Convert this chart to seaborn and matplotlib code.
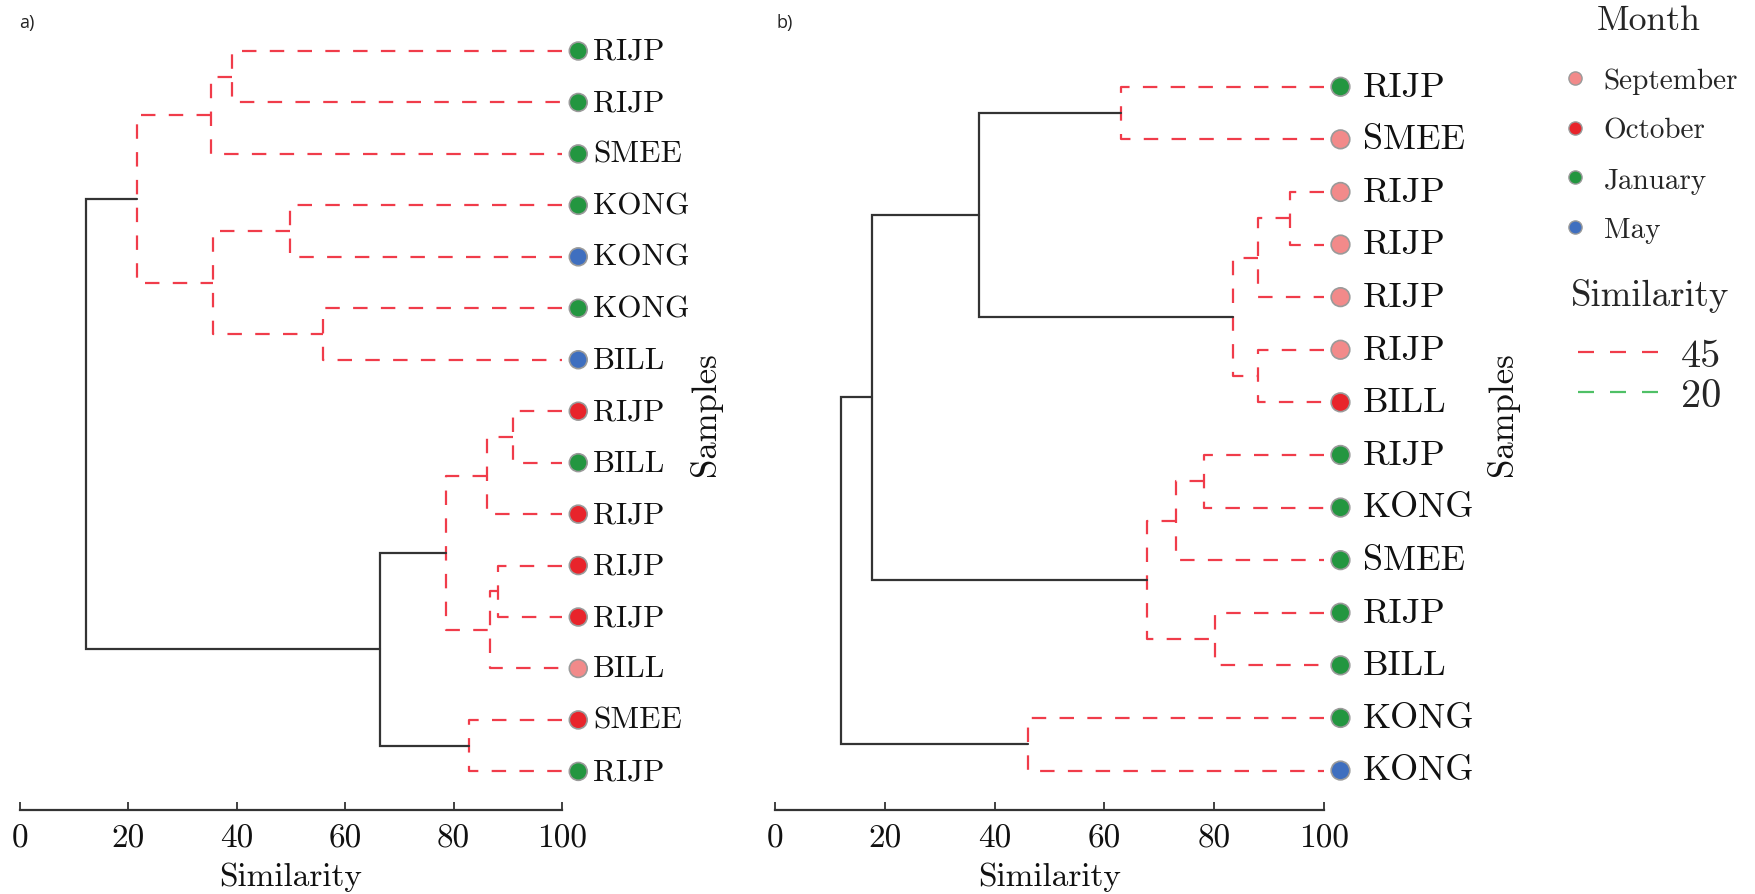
import numpy as np
import pandas as pd
import matplotlib
matplotlib.use("Agg")
import matplotlib.pyplot as plt
from matplotlib.lines import Line2D
import seaborn as sns

# ---------------- data ----------------
months_order = ["September", "October", "January", "May"]

# panel a) leaves (top to bottom)
labels_a = ["RIJP", "RIJP", "SMEE", "KONG", "KONG", "KONG", "BILL", "RIJP",
            "BILL", "RIJP", "RIJP", "RIJP", "BILL", "SMEE", "RIJP"]
months_a = ["January", "January", "January", "January", "May", "January", "May",
            "October", "January", "October", "October", "October", "September",
            "October", "January"]
# merges: (child 1, child 2, similarity); new clusters numbered from len(labels)
merges_a = [(0, 1, 39.2), (15, 2, 35.2), (3, 4, 49.9), (5, 6, 55.9),
            (17, 18, 35.7), (16, 19, 21.6), (7, 8, 90.9), (21, 9, 86.2),
            (10, 11, 88.2), (23, 12, 86.8), (22, 24, 78.6), (13, 14, 82.9),
            (25, 26, 66.4), (20, 27, 12.1)]
solid_a = [27, 28]

# panel b) leaves (top to bottom)
labels_b = ["RIJP", "SMEE", "RIJP", "RIJP", "RIJP", "RIJP", "BILL", "RIJP",
            "KONG", "SMEE", "RIJP", "BILL", "KONG", "KONG"]
months_b = ["January", "September", "September", "September", "September",
            "September", "October", "January", "January", "January", "January",
            "January", "January", "May"]
merges_b = [(0, 1, 63.0), (2, 3, 93.8), (15, 4, 88.0), (5, 6, 88.0),
            (16, 17, 83.5), (14, 18, 37.1), (7, 8, 78.1), (20, 9, 73.0),
            (10, 11, 80.2), (21, 22, 67.8), (19, 23, 17.6), (12, 13, 46.0),
            (24, 25, 12.1)]
solid_b = [19, 24, 26]

sim_levels = ["45", "20"]
xticks = [0, 20, 40, 60, 80, 100]

# ---------------- style ----------------
sns.set_theme(style="white")
plt.rcParams["font.family"] = ["cmr10", "DejaVu Serif"]
plt.rcParams["mathtext.fontset"] = "cm"
plt.rcParams["axes.unicode_minus"] = False
plt.rcParams["axes.formatter.use_mathtext"] = True

palette = {"September": "#f28a8a", "October": "#e8242b",
           "January": "#239640", "May": "#3f6fbf"}
RED = "#f03c4a"
GREEN = "#4fc066"
BLACK = "#333333"
EDGE = "#9a9a9a"
DASH = (6.5, 6.0)

W, H = 1756, 895
fig = plt.figure(figsize=(W / 100, H / 100), dpi=100)

ax_a = fig.add_axes([20 / W, (H - 811) / H, 542 / W, (811 - 13.4) / H])
ax_b = fig.add_axes([775 / W, (H - 811) / H, 549 / W, (811 - 48.3) / H])


def draw_panel(ax, labels, months, merges, solid, label_fs, msize, text_off):
    n = len(labels)
    pos = {i: (100.0, float(i)) for i in range(n)}
    for k, (a, b, s) in enumerate(merges):
        xa, ya = pos[a]
        xb, yb = pos[b]
        node = n + k
        if node in solid:
            ax.plot([xa, s, s, xb], [ya, ya, yb, yb], color=BLACK, lw=1.6,
                    solid_joinstyle="miter", zorder=2)
        else:
            ax.plot([xa, s, s, xb], [ya, ya, yb, yb], color=RED, lw=1.6,
                    dashes=DASH, zorder=2)
        pos[node] = (s, (ya + yb) / 2.0)

    df = pd.DataFrame({"x": [103.0] * n, "y": np.arange(n, dtype=float),
                       "month": months, "label": labels})
    sns.scatterplot(data=df, x="x", y="y", hue="month", palette=palette,
                    hue_order=months_order, s=msize, edgecolor=EDGE,
                    linewidth=1.2, legend=False, ax=ax, clip_on=False, zorder=5)
    for _, r in df.iterrows():
        ax.annotate(r["label"], xy=(r["x"], r["y"]), xytext=(text_off, 0),
                    textcoords="offset points", ha="left", va="center",
                    fontsize=label_fs, color="#111111", annotation_clip=False)

    ax.set_xlim(0, 100)
    ax.set_ylim(n - 1 + 0.75, -0.75)
    ax.set_xticks(xticks)
    ax.set_xticklabels([str(t) for t in xticks])
    ax.set_yticks([])
    for sp in ["left", "right", "top"]:
        ax.spines[sp].set_visible(False)
    ax.spines["bottom"].set_color(BLACK)
    ax.spines["bottom"].set_linewidth(1.6)
    ax.tick_params(axis="x", which="major", bottom=True, direction="in",
                   length=6, width=1.3, color=BLACK, pad=10, labelsize=24,
                   labelcolor="#111111")
    ax.set_xlabel("Similarity", fontsize=24, color="#111111", labelpad=6)
    ax.set_ylabel("Samples", fontsize=25, color="#111111")


draw_panel(ax_a, labels_a, months_a, merges_a, solid_a, 22.5, 165, 10.5)
draw_panel(ax_b, labels_b, months_b, merges_b, solid_b, 26, 180, 16)

ax_a.yaxis.set_label_coords((721.5 - 20) / 542, (811 - 414) / (811 - 13.4))
ax_b.yaxis.set_label_coords((1519 - 775) / 549, (811 - 414) / (811 - 48.3))

fig.text(19 / W, 1 - 23 / H, "a)", fontsize=13, family=["Open Sans", "DejaVu Sans"],
         va="center", ha="left", color="#222222")
fig.text(777 / W, 1 - 23 / H, "b)", fontsize=13, family=["Open Sans", "DejaVu Sans"],
         va="center", ha="left", color="#222222")

# legends
month_handles = [Line2D([], [], marker="o", ls="", markersize=9.5,
                        markerfacecolor=palette[m], markeredgecolor=EDGE,
                        markeredgewidth=1.0) for m in months_order]
leg1 = fig.legend(month_handles, months_order, title="Month", loc="upper left",
                  bbox_to_anchor=(1560 / W, 1 - 5.5 / H), frameon=False,
                  fontsize=21, title_fontsize=25.7, handlelength=1.0,
                  handletextpad=0.5, labelspacing=0.8, borderpad=0,
                  borderaxespad=0)
leg1._legend_box.sep = 22.6

sim_colors = [RED, GREEN]
sim_handles = [Line2D([], [], color=c, lw=1.6, dashes=(7.2, 7.2)) for c in sim_colors]
leg2 = fig.legend(sim_handles, sim_levels, title="Similarity", loc="upper left",
                  bbox_to_anchor=(1570.6 / W, 1 - 279 / H), frameon=False,
                  fontsize=29, title_fontsize=26.5, handlelength=1.99,
                  handletextpad=0.55, labelspacing=0.1, borderpad=0,
                  borderaxespad=0)
leg2._legend_box.sep = 18.5

fig.savefig("out.png", dpi=100)
